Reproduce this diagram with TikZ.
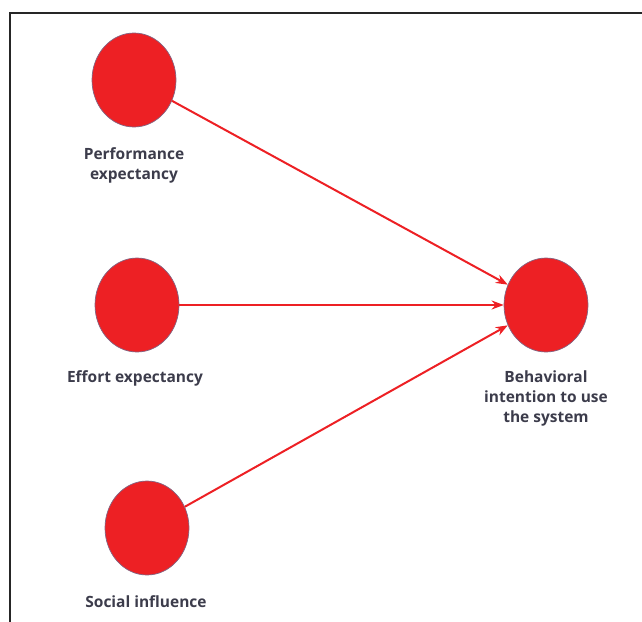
\documentclass[tikz,border=0pt]{standalone}
\usepackage{fontspec}
\setmainfont{Open Sans}
\usepackage{tikz}
\usepackage{xcolor}
\usetikzlibrary{positioning,shapes,arrows.meta}
\definecolor{constred}{RGB}{237,32,36}
\definecolor{rimgray}{RGB}{130,100,130}
\definecolor{labelgray}{RGB}{60,60,75}

\begin{document}
\begin{tikzpicture}[x=1pt,y=-1pt]
\useasboundingbox (0,0) rectangle (642,621);
\draw[line width=2.2pt,black!85] (10,640) -- (10,13) -- (660,13);
\tikzstyle{construct}=[draw=rimgray,line width=0.7pt,fill=constred,shape=ellipse,minimum width=84pt,minimum height=94pt,inner sep=0pt];
\tikzstyle{caption}=[text=labelgray,font=\fontsize{15.5}{20}\selectfont\bfseries,align=center,inner sep=0pt];
\tikzstyle{path}=[draw=constred,line width=2pt,-{Stealth[length=12pt,width=9pt]}];

\node[construct] (pe) at (134,80) {};
\node[construct] (ee) at (137,305) {};
\node[construct] (si) at (147,528) {};
\node[construct] (bi) at (546,305) {};

\node[caption] (pelabel) at (134,165) {Performance\\expectancy};
\node[caption] (eelabel) at (135,378) {Effort expectancy};
\node[caption] (silabel) at (146,602) {Social influence};
\node[caption] (bilabel) at (546,398) {Behavioral\\intention to use\\the system};

\draw[path] (pe) -- (bi.152);
\draw[path] (ee) -- (bi);
\draw[path] (si) -- (bi.208);
\end{tikzpicture}
\end{document}
